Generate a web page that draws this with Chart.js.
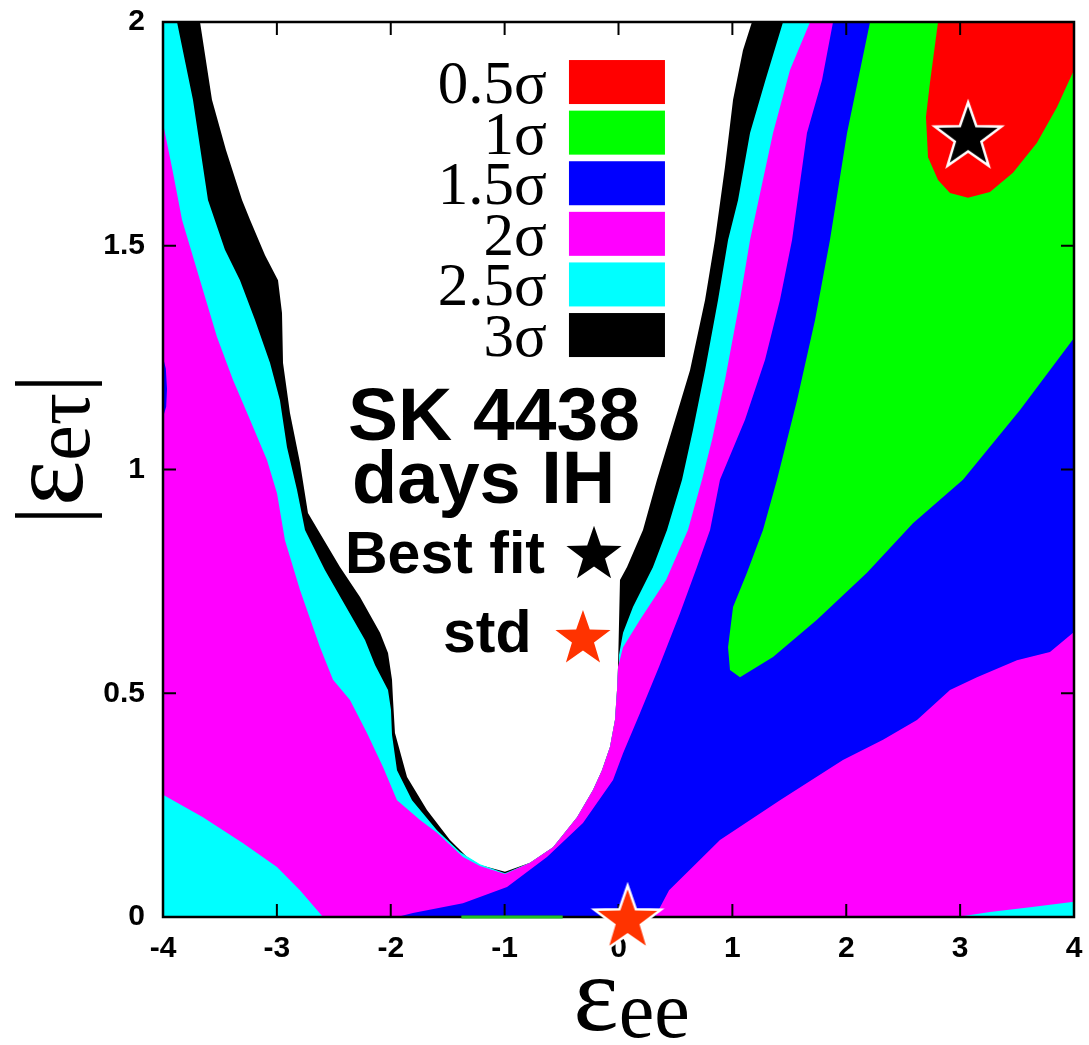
<!DOCTYPE html>
<html>
<head>
<meta charset="utf-8">
<script src="https://cdn.jsdelivr.net/npm/chart.js@4.4.1/dist/chart.umd.min.js"></script>
<style>
  html, body { margin: 0; padding: 0; background: #fff; }
  #wrap { width: 1089px; height: 1045px; position: relative; }
</style>
</head>
<body>
<div id="wrap"><canvas id="chart"></canvas></div>
<script>
// legend order, top to bottom
const levelLabels = ['0.5σ', '1σ', '1.5σ', '2σ', '2.5σ', '3σ'];
const levelColors = ['#ff0000', '#00ff00', '#0000ff', '#ff00ff', '#00ffff', '#000000'];

// contour boundaries, points are [eps_ee, |eps_etau|]
const whiteLeft = [[-3.675, 2.0], [-3.570, 1.826], [-3.447, 1.714], [-3.306, 1.602], [-3.236, 1.558],
    [-3.104, 1.479], [-2.990, 1.423], [-2.955, 1.350], [-2.946, 1.238], [-2.885, 1.126], [-2.797, 1.015],
    [-2.727, 0.903], [-2.639, 0.865], [-2.446, 0.782], [-2.270, 0.715], [-2.094, 0.635], [-2.024, 0.590],
    [-1.989, 0.530], [-1.980, 0.485], [-1.963, 0.411], [-1.857, 0.313], [-1.682, 0.239], [-1.480, 0.172],
    [-1.330, 0.134], [-1.216, 0.116], [-0.997, 0.101]];
const whiteLowerRight = [[-0.777, 0.121], [-0.575, 0.156], [-0.364, 0.223], [-0.224, 0.284], [-0.145, 0.328],
    [-0.075, 0.380], [-0.031, 0.440], [-0.013, 0.507], [-0.004, 0.559]];
const whiteUpperRight = [[0.013, 0.753], [0.075, 0.782], [0.215, 0.865], [0.338, 0.977], [0.470, 1.088],
    [0.628, 1.222], [0.760, 1.379], [0.847, 1.513], [0.935, 1.676], [1.006, 1.826], [1.093, 1.937], [1.172, 2.0]];

const blackOuterLeft = [[-3.877, 2.0], [-3.737, 1.826], [-3.605, 1.602], [-3.456, 1.491], [-3.324, 1.423],
    [-3.192, 1.334], [-3.060, 1.238], [-2.973, 1.155], [-2.911, 1.050], [-2.823, 0.954], [-2.753, 0.865],
    [-2.577, 0.775], [-2.402, 0.697], [-2.226, 0.619], [-2.138, 0.563], [-2.024, 0.507], [-1.998, 0.463],
    [-1.989, 0.407], [-1.945, 0.328], [-1.813, 0.261], [-1.594, 0.194], [-1.392, 0.145], [-1.216, 0.118],
    [-0.997, 0.098]];
const blackOuterRight = [[0.004, 0.585], [0.040, 0.635], [0.127, 0.693], [0.303, 0.782], [0.426, 0.865],
    [0.558, 0.977], [0.654, 1.088], [0.760, 1.222], [0.874, 1.379], [0.962, 1.513], [1.050, 1.602],
    [1.155, 1.752], [1.290, 1.870], [1.445, 2.0]];

const cyanOuterLeft = [[-4.0, 1.774], [-3.912, 1.663], [-3.833, 1.558], [-3.675, 1.423], [-3.526, 1.296],
    [-3.385, 1.200], [-3.236, 1.111], [-3.087, 1.021], [-2.999, 0.947], [-2.929, 0.842], [-2.797, 0.731],
    [-2.621, 0.603], [-2.507, 0.530], [-2.358, 0.485], [-2.209, 0.411], [-2.068, 0.335], [-1.945, 0.261],
    [-1.743, 0.217], [-1.594, 0.188], [-1.366, 0.134], [-1.216, 0.114], [-0.997, 0.096]];
const cyanOuterRight = [[0.040, 0.603], [0.189, 0.664], [0.418, 0.753], [0.610, 0.865], [0.733, 0.977],
    [0.821, 1.066], [0.935, 1.200], [1.067, 1.379], [1.155, 1.513], [1.357, 1.752], [1.506, 1.893], [1.682, 2.0]];
const cyanCornerLeft = [[-4.0, 0.273], [-3.649, 0.223], [-3.297, 0.165], [-2.999, 0.112], [-2.797, 0.060], [-2.595, 0]];
const cyanCornerRight = [[2.973, 0], [3.262, 0.011], [3.614, 0.022], [4.0, 0.034]];

const magentaOuter = [[1.884, 2.0], [1.787, 1.870], [1.655, 1.752], [1.524, 1.513], [1.418, 1.379],
    [1.287, 1.245], [1.111, 1.111], [0.891, 0.977], [0.804, 0.865], [0.689, 0.782], [0.540, 0.679],
    [0.356, 0.559], [0.189, 0.456], [0.040, 0.366], [-0.048, 0.306], [-0.312, 0.210], [-0.628, 0.134],
    [-0.979, 0.067], [-1.366, 0.031], [-1.805, 0.009], [-1.945, 0]];
const magentaLowerRight = [[0.320, 0], [0.444, 0.060], [0.689, 0.121], [0.891, 0.172], [1.418, 0.261],
    [1.971, 0.351], [2.323, 0.396], [2.621, 0.440], [2.911, 0.507], [3.148, 0.536], [3.499, 0.574],
    [3.789, 0.592], [4.0, 0.637]];
const blueSliver = [[-4.0, 1.251], [-3.975, 1.225], [-3.965, 1.180], [-3.972, 1.140], [-4.0, 1.117]];

const greenEdge = [[2.209, 2.0], [2.103, 1.870], [2.007, 1.752], [1.857, 1.513], [1.726, 1.334],
    [1.568, 1.155], [1.392, 0.977], [1.269, 0.865], [1.128, 0.769], [1.006, 0.693], [0.962, 0.603],
    [0.979, 0.552], [1.067, 0.536], [1.357, 0.581], [1.743, 0.664], [2.182, 0.769], [2.586, 0.880],
    [3.025, 0.977], [3.526, 1.133], [4.0, 1.294]];
const redEdge = [[2.806, 2.0], [2.735, 1.864], [2.700, 1.788], [2.718, 1.698], [2.806, 1.647],
    [2.911, 1.618], [3.069, 1.607], [3.262, 1.620], [3.464, 1.663], [3.675, 1.730], [3.851, 1.810], [4.0, 1.893]];

const greenFloor = [[-1.38, 0], [-0.49, 0]];
const bestFit = [3.07, 1.75];
const stdPoint = [0.08, 0.0];

const toXY = pts => pts.map(([x, y]) => ({ x, y }));
const rev = pts => pts.slice().reverse();

const region3 = [[-4, 2], ...whiteLeft, ...whiteLowerRight, ...whiteUpperRight, [4, 2], [4, 0], [-4, 0]];
const region25 = [[-4, 2], ...blackOuterLeft, ...whiteLowerRight, ...blackOuterRight, [4, 2], [4, 0], [-4, 0]];
const region2 = [...cyanOuterLeft, ...whiteLowerRight, ...cyanOuterRight, [4, 2], ...rev(cyanCornerRight), ...rev(cyanCornerLeft)];
const region15 = [...magentaOuter, ...magentaLowerRight, [4, 2]];
const region1 = [...greenEdge, [4, 2]];
const region05 = [...redEdge, [4, 2]];

function region(label, color, pts, order) {
    return {
        label: label,
        data: toXY(pts),
        showLine: true,
        fill: 'shape',
        backgroundColor: color,
        borderWidth: 0,
        pointRadius: 0,
        order: order
    };
}

function starPath(ctx, cx, cy, r) {
    const ri = r * 0.4;
    ctx.beginPath();
    for (let i = 0; i < 10; i++) {
        const rad = i % 2 ? ri : r;
        const a = -Math.PI / 2 + i * Math.PI / 5;
        ctx.lineTo(cx + rad * Math.cos(a), cy + rad * Math.sin(a));
    }
    ctx.closePath();
}

function starImage(color, r) {
    const c = document.createElement('canvas');
    c.width = c.height = Math.ceil(2 * r + 6);
    const g = c.getContext('2d');
    starPath(g, c.width / 2, c.height / 2 + r * 0.1, r);
    g.fillStyle = color;
    g.fill();
    g.lineWidth = 2.5;
    g.strokeStyle = '#fff';
    g.stroke();
    return c;
}

function drawFrame(chart) {
    const { ctx, chartArea: a, scales: { x, y } } = chart;
    ctx.save();
    ctx.strokeStyle = '#000';
    ctx.lineWidth = 2;
    ctx.beginPath();
    x.ticks.forEach(t => {
        const px = x.getPixelForValue(t.value);
        ctx.moveTo(px, a.bottom); ctx.lineTo(px, a.bottom - 13);
        ctx.moveTo(px, a.top); ctx.lineTo(px, a.top + 13);
    });
    y.ticks.forEach(t => {
        const py = y.getPixelForValue(t.value);
        ctx.moveTo(a.left, py); ctx.lineTo(a.left + 13, py);
        ctx.moveTo(a.right, py); ctx.lineTo(a.right - 13, py);
    });
    ctx.stroke();
    ctx.lineWidth = 2.5;
    ctx.strokeRect(a.left, a.top, a.right - a.left, a.bottom - a.top);
    ctx.restore();
}

function drawLegend(chart) {
    const { ctx, scales: { x, y } } = chart;
    const boxLeft = x.getPixelForValue(-0.435);
    const boxRight = x.getPixelForValue(0.408);
    const textRight = x.getPixelForValue(-0.628);
    const top = y.getPixelForValue(1.915);
    ctx.save();
    ctx.font = '61px "Liberation Serif", serif';
    ctx.textAlign = 'right';
    ctx.textBaseline = 'alphabetic';
    levelLabels.forEach((lab, i) => {
        const by = top + i * 50.6;
        ctx.fillStyle = levelColors[i];
        ctx.fillRect(boxLeft, by, boxRight - boxLeft, 44);
        ctx.fillStyle = '#000';
        ctx.fillText(lab, textRight, by + 43);
    });
    ctx.restore();
}

function drawNotes(chart) {
    const { ctx, scales: { x, y } } = chart;
    const put = (txt, size, ex, ey) => {
        ctx.font = 'bold ' + size + 'px "Liberation Sans", Arial, sans-serif';
        ctx.fillText(txt, x.getPixelForValue(ex), y.getPixelForValue(ey));
    };
    ctx.save();
    ctx.fillStyle = '#000';
    ctx.textAlign = 'left';
    ctx.textBaseline = 'alphabetic';
    put('SK 4438', 75, -2.375, 1.066);
    put('days IH', 74, -2.340, 0.925);
    put('Best fit', 59, -2.402, 0.769);
    put('std', 59, -1.541, 0.592);
    starPath(ctx, x.getPixelForValue(-0.215), y.getPixelForValue(0.816) + 3, 29);
    ctx.fillStyle = '#000';
    ctx.fill();
    starPath(ctx, x.getPixelForValue(-0.312), y.getPixelForValue(0.628) + 3, 29);
    ctx.fillStyle = '#ff3300';
    ctx.fill();
    ctx.restore();
}

function drawTitles(chart) {
    const { ctx, chartArea: a } = chart;
    ctx.save();
    ctx.fillStyle = '#000';
    ctx.textBaseline = 'alphabetic';
    ctx.textAlign = 'left';
    // x axis title
    const big = '108px "Liberation Serif", serif';
    const sub = '80px "Liberation Serif", serif';
    const bar = '95px "Liberation Serif", serif';
    ctx.font = big;
    const we = ctx.measureText('ε').width;
    ctx.font = sub;
    const ws = ctx.measureText('ee').width;
    let x0 = (a.left + a.right) / 2 + 13 - (we + ws) / 2;
    ctx.font = big;
    ctx.fillText('ε', x0, 1030);
    ctx.font = sub;
    ctx.fillText('ee', x0 + we, 1037);
    // y axis title, rotated
    ctx.font = bar;
    const wb = ctx.measureText('|').width;
    ctx.font = sub;
    const wt = ctx.measureText('eτ').width;
    const total = 2 * wb + we + wt;
    ctx.translate(82, (a.top + a.bottom) / 2 - 20);
    ctx.rotate(-Math.PI / 2);
    let p = -total / 2;
    ctx.font = bar;
    ctx.fillText('|', p, 0); p += wb;
    ctx.font = big;
    ctx.fillText('ε', p, 0); p += we;
    ctx.font = sub;
    ctx.fillText('eτ', p, 7); p += wt;
    ctx.font = bar;
    ctx.fillText('|', p, 0);
    ctx.restore();
}

const overlay = {
    id: 'overlay',
    beforeDatasetDraw(chart, args) {
        if (chart.data.datasets[args.index].label === 'floor') drawFrame(chart);
    },
    afterDatasetsDraw(chart) {
        drawLegend(chart);
        drawNotes(chart);
    },
    afterDraw(chart) {
        drawTitles(chart);
    }
};

const tickFont = { family: '"Liberation Sans", Arial, sans-serif', size: 30, weight: 'bold' };

function noPad(scale) {
    scale.paddingTop = 0;
    scale.paddingBottom = 0;
    scale.paddingLeft = 0;
    scale.paddingRight = 0;
}

new Chart(document.getElementById('chart'), {
    type: 'scatter',
    data: {
        datasets: [
            {
                label: 'points',
                data: toXY([bestFit, stdPoint]),
                pointStyle: [starImage('#000000', 35), starImage('#ff3300', 35)],
                pointRadius: 35,
                clip: false,
                order: 1
            },
            {
                label: 'floor',
                data: toXY(greenFloor),
                showLine: true,
                borderColor: '#20c020',
                borderWidth: 3,
                pointRadius: 0,
                clip: false,
                order: 2
            },
            region('0.5σ', levelColors[0], region05, 3),
            region('1σ', levelColors[1], region1, 4),
            region('1.5σ edge', levelColors[2], blueSliver, 5),
            region('1.5σ', levelColors[2], region15, 6),
            region('2σ', levelColors[3], region2, 7),
            region('2.5σ', levelColors[4], region25, 8),
            region('3σ', levelColors[5], region3, 9)
        ]
    },
    options: {
        responsive: true,
        maintainAspectRatio: false,
        animation: false,
        events: [],
        layout: { autoPadding: false, padding: { left: 0, top: 22, right: 15, bottom: 0 } },
        plugins: {
            legend: { display: false },
            tooltip: { enabled: false }
        },
        scales: {
            x: {
                type: 'linear',
                min: -4,
                max: 4,
                grid: { display: false, drawTicks: false },
                border: { display: false },
                ticks: { stepSize: 1, color: '#000', font: tickFont, padding: 14, maxRotation: 0 },
                afterFit(scale) { scale.height = 128; noPad(scale); }
            },
            y: {
                type: 'linear',
                min: 0,
                max: 2,
                grid: { display: false, drawTicks: false },
                border: { display: false },
                ticks: {
                    stepSize: 0.5, color: '#000', font: tickFont, padding: 18,
                    callback: v => String(v)
                },
                afterFit(scale) { scale.width = 163; noPad(scale); }
            }
        }
    },
    plugins: [overlay]
});
</script>
</body>
</html>
